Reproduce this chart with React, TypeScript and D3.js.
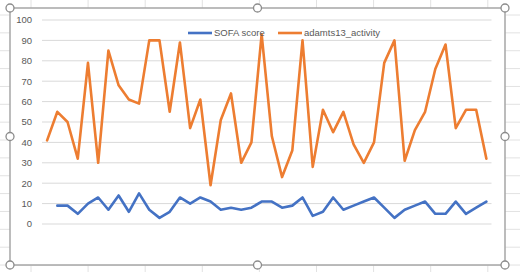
import React from "react";
import * as d3 from "d3";

const categories: number[] = d3.range(1, 45);
const sofaScore: (number | null)[] = [
  null, 9, 9, 5, 10, 13, 7, 14, 6, 15, 7, 3, 6, 13, 10, 13, 11, 7, 8, 7, 8, 11,
  11, 8, 9, 13, 4, 6, 13, 7, 9, 11, 13, 8, 3, 7, 9, 11, 5, 5, 11, 5, 8, 11,
];
const adamts13Activity: number[] = [
  41, 55, 50, 32, 79, 30, 85, 68, 61, 59, 90, 90, 55, 89, 47, 61, 19, 51, 64, 30,
  40, 93, 43, 23, 36, 90, 28, 56, 45, 55, 39, 30, 40, 79, 90, 31, 46, 55, 76, 88,
  47, 56, 56, 32,
];
const yTicks: number[] = [0, 10, 20, 30, 40, 50, 60, 70, 80, 90, 100];
const seriesNames: string[] = ["SOFA score", "adamts13_activity"];
const seriesColors: string[] = ["#4472C4", "#ED7D31"];

const W = 520;
const H = 272;
const frame = { left: 10, top: 8, right: 505, bottom: 265 };
const plot = { left: 42, right: 491.5, top: 20, bottom: 224 };
const font = "'Liberation Sans', Arial, sans-serif";

export default function App() {
  const x = d3
    .scaleBand<number>()
    .domain(categories)
    .range([plot.left, plot.right]);
  const cx = (c: number) => (x(c) as number) + x.bandwidth() / 2;
  const y = d3.scaleLinear().domain([0, 100]).range([plot.bottom, plot.top]);

  const line = d3
    .line<[number, number | null]>()
    .defined((d) => d[1] !== null)
    .x((d) => cx(d[0]))
    .y((d) => y(d[1] as number));

  const sofaData: [number, number | null][] = categories.map((c, i) => [c, sofaScore[i]]);
  const adData: [number, number | null][] = categories.map((c, i) => [c, adamts13Activity[i]]);

  // spreadsheet background grid (decoration)
  const sheetH = d3.range(15, H, 17.86);
  const sheetV = d3.range(31, W, 57.1);

  const handles: [number, number][] = [
    [frame.left, frame.top],
    [(frame.left + frame.right) / 2, frame.top],
    [frame.right, frame.top],
    [frame.left, (frame.top + frame.bottom) / 2],
    [frame.right, (frame.top + frame.bottom) / 2],
    [frame.left, frame.bottom],
    [(frame.left + frame.right) / 2, frame.bottom],
    [frame.right, frame.bottom],
  ];

  const legendItems = [
    { name: seriesNames[0], color: seriesColors[0], x: 188 },
    { name: seriesNames[1], color: seriesColors[1], x: 278 },
  ];

  return (
    <svg
      width={W}
      height={H}
      style={{ position: "absolute", left: 0, top: 0, display: "block", background: "#fff" }}
    >
      <rect x={0} y={0} width={W} height={H} fill="#fff" />
      {sheetH.map((v, i) => (
        <line key={"sh" + i} x1={0} x2={W} y1={v} y2={v} stroke="#e2e2e2" strokeWidth={1} />
      ))}
      {sheetV.map((v, i) => (
        <line key={"sv" + i} x1={v} x2={v} y1={0} y2={H} stroke="#e2e2e2" strokeWidth={1} />
      ))}
      <rect
        x={frame.left}
        y={frame.top}
        width={frame.right - frame.left}
        height={frame.bottom - frame.top}
        fill="#fff"
        stroke="#a6a6a6"
        strokeWidth={1.5}
      />
      {yTicks.map((t) => (
        <g key={"t" + t}>
          <line
            x1={plot.left}
            x2={plot.right}
            y1={y(t)}
            y2={y(t)}
            stroke="#d9d9d9"
            strokeWidth={1}
          />
          <text
            x={32}
            y={y(t)}
            dy="0.35em"
            textAnchor="end"
            fontFamily={font}
            fontSize={9.5}
            fill="#595959"
          >
            {t}
          </text>
        </g>
      ))}
      <path
        d={line(sofaData) || ""}
        fill="none"
        stroke={seriesColors[0]}
        strokeWidth={2.6}
        strokeLinejoin="round"
        strokeLinecap="round"
      />
      <path
        d={line(adData) || ""}
        fill="none"
        stroke={seriesColors[1]}
        strokeWidth={2.6}
        strokeLinejoin="round"
        strokeLinecap="round"
      />
      {legendItems.map((it) => (
        <g key={it.name}>
          <line
            x1={it.x}
            x2={it.x + 24}
            y1={33}
            y2={33}
            stroke={it.color}
            strokeWidth={2.6}
          />
          <text
            x={it.x + 26}
            y={33}
            dy="0.35em"
            fontFamily={font}
            fontSize={9.5}
            fill="#595959"
          >
            {it.name}
          </text>
        </g>
      ))}
      {handles.map(([hx, hy], i) => (
        <circle key={"h" + i} cx={hx} cy={hy} r={4} fill="#fff" stroke="#8c8c8c" strokeWidth={1.3} />
      ))}
    </svg>
  );
}
